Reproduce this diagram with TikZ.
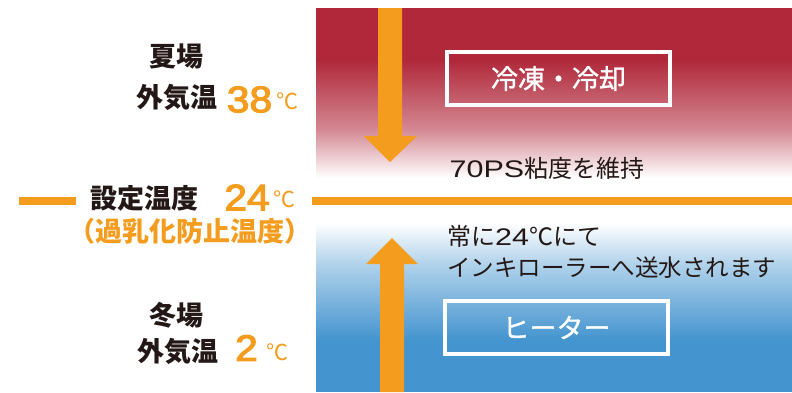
\documentclass[tikz,border=0pt]{standalone}
\usepackage{fontspec}
\usepackage{graphicx}
\newfontfamily\jp{Noto Sans CJK JP}
\newfontfamily\jpm[FakeBold=1.2]{Noto Sans CJK JP}
\newfontfamily\lat{Liberation Sans}
\newfontfamily\latb[FakeBold=3]{Liberation Sans}
\definecolor{cred}{HTML}{B0283A}
\definecolor{cblue}{HTML}{4494CF}
\definecolor{corange}{HTML}{F49C1E}
\definecolor{ctext}{HTML}{231815}
\newcommand{\wlat}[1]{{\lat\scalebox{1.27}[1]{#1}}}
\newcommand{\wnum}[1]{\scalebox{1.1}[1]{#1}}
\tikzset{
  lbl/.style={inner sep=0pt, text=ctext, font=\jp\bfseries\fontsize{27}{30}\selectfont},
  olbl/.style={inner sep=0pt, text=corange, font=\jp\bfseries\fontsize{27}{30}\selectfont},
  num/.style={inner sep=0pt, text=corange, font=\latb\fontsize{37}{40}\selectfont},
  deg/.style={inner sep=0pt, text=corange, font=\jp\fontsize{22}{24}\selectfont},
  rtxt/.style={inner sep=0pt, text=ctext, font=\jp\fontsize{24}{26}\selectfont},
  wbox/.style={draw=white, line width=4pt, minimum width=223pt, minimum height=53pt, inner sep=0pt,
    text=white, font=\jpm\fontsize{27}{30}\selectfont},
  orfill/.style={fill=corange}
}
\begin{document}
\begin{tikzpicture}[x=1pt,y=-1pt]
\useasboundingbox (0,0) rectangle (792,392);
% red panel
\fill[cred] (316,8) rectangle (792,60);
\shade[top color=cred,bottom color=cred!55!white] (316,59.5) rectangle (792,130);
\shade[top color=cred!55!white,bottom color=white] (316,129.5) rectangle (792,178);
% blue panel
\shade[top color=white,bottom color=cblue!40!white] (316,223) rectangle (792,262);
\shade[top color=cblue!40!white,bottom color=cblue] (316,261.5) rectangle (792,340);
\fill[cblue] (316,339.5) rectangle (792,392);
% set line
\fill[orfill] (19,197) rectangle (76,205);
\fill[orfill] (312,197) rectangle (792,205);
% arrows
\fill[orfill] (378,8) -- (402,8) -- (402,136) -- (417,136) -- (390,162) -- (364,136) -- (378,136) -- cycle;
\fill[orfill] (380,392) -- (404,392) -- (404,264) -- (418,264) -- (392,238) -- (366,264) -- (380,264) -- cycle;
% boxes
\node[wbox] (cool) at (558.5,78.5) {冷凍・冷却};
\node[wbox] (heat) at (556.5,327.5) {ヒーター};
% right texts
\node[rtxt] (visc) at (547,168.5) {\wlat{70PS}粘度を維持};
\node[rtxt, anchor=west] (always) at (447,236) {常に\wlat{24}℃にて};
\node[rtxt, anchor=west, font=\jp\fontsize{23.5}{26}\selectfont] (send) at (447,268) {インキローラーへ送水されます};
% left texts
\node[lbl] (summer) at (176,56.5) {夏場};
\node[lbl] (sout) at (177,97) {外気温};
\node[num] (snum) at (249.5,99.5) {\wnum{38}};
\node[deg] (sdeg) at (287.5,101.5) {℃};
\node[lbl] (set) at (144,198) {設定温度};
\node[num] (setnum) at (247,197.5) {\wnum{24}};
\node[deg] (setdeg) at (284,199) {℃};
\node[olbl] (anti) at (189.5,231.5) {（過乳化防止温度）};
\node[lbl] (winter) at (176,315.5) {冬場};
\node[lbl] (wout) at (177.5,351.5) {外気温};
\node[num] (wnum) at (246.5,348) {\wnum{2}};
\node[deg] (wdeg) at (277.5,352.5) {℃};
\end{tikzpicture}
\end{document}
